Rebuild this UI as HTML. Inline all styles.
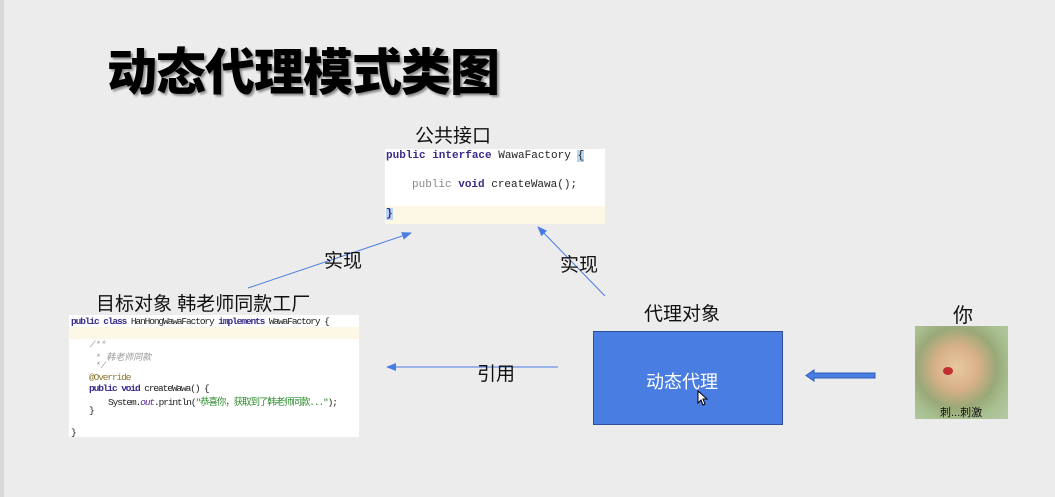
<!DOCTYPE html>
<html><head><meta charset="utf-8"><style>
body{margin:0;width:1055px;height:497px;background:#ececec;position:relative;overflow:hidden;font-family:"Liberation Sans","Noto Sans CJK SC",sans-serif}
.a{position:absolute;white-space:nowrap}
.code{font-family:"Liberation Mono","Noto Sans CJK SC",monospace;font-size:10px;color:#222}
.cc{letter-spacing:-1.1px}
.kw{color:#3a2a8a;font-weight:bold}
.cm{color:#999;font-style:italic}
.str{color:#2a8a2a}
</style></head><body>
<div class="a" style="left:0;top:0;width:4px;height:497px;background:#d8d8d8"></div>
<div class="a" style="left:107px;top:33px;font-size:50px;font-weight:900;color:#000;text-shadow:2px 2px 2px #888;letter-spacing:-1px">动态代理模式类图</div>

<div class="a" style="left:415px;top:121px;font-size:19px;color:#111">公共接口</div>
<div class="a" style="left:385px;top:149px;width:220px;height:75px;background:#fff"></div>
<div class="a" style="left:385px;top:206px;width:220px;height:18px;background:#fdf8e6"></div>
<div class="a code" style="left:386px;top:150px;font-size:11px"><span class="kw">public interface</span> WawaFactory <span style="background:#b8d4f0">{</span></div>
<div class="a code" style="left:412px;top:179px;font-size:11px"><span style="color:#888">public</span> <span class="kw">void</span> createWawa();</div>
<div class="a code" style="left:386px;top:208px;font-size:11px"><span style="background:#b8d4f0" class="kw">}</span></div>

<div class="a" style="left:96px;top:289px;font-size:19px;color:#111">目标对象 韩老师同款工厂</div>
<div class="a" style="left:69px;top:315px;width:290px;height:122px;background:#fff"></div>
<div class="a" style="left:69px;top:327px;width:290px;height:12px;background:#fdf8e6"></div>
<div class="a code cc" style="left:71px;top:316px;font-size:9.5px"><span class="kw">public class</span> HanHongWawaFactory <span class="kw">implements</span> WawaFactory {</div>
<div class="a code cm" style="left:90px;top:340px;font-size:9px">/**</div>
<div class="a code cm" style="left:90px;top:350px;font-size:9px">&nbsp;* 韩老师同款</div>
<div class="a code cm" style="left:90px;top:361px;font-size:9px">&nbsp;*/</div>
<div class="a code cc" style="left:89px;top:372px;font-size:9.5px;color:#8a7a30">@Override</div>
<div class="a code cc" style="left:89px;top:383px;font-size:9.5px"><span class="kw">public void</span> createWawa() {</div>
<div class="a code cc" style="left:108px;top:394px;font-size:9.5px">System.<i style="color:#5a2a9a">out</i>.println(<span class="str">"恭喜你，获取到了韩老师同款..."</span>);</div>
<div class="a code" style="left:89px;top:405px;font-size:9.5px">}</div>
<div class="a code" style="left:71px;top:427px;font-size:9.5px">}</div>

<svg class="a" style="left:0;top:0" width="1055" height="497">
<defs><marker id="m" markerWidth="10" markerHeight="8" refX="9" refY="4" orient="auto" markerUnits="userSpaceOnUse"><path d="M0,0L10,4L0,8z" fill="#4a7de2"/></marker></defs>
<line x1="248" y1="288" x2="411" y2="233" stroke="#4a7de2" stroke-width="1" marker-end="url(#m)"/>
<line x1="605" y1="296" x2="538" y2="227" stroke="#4a7de2" stroke-width="1" marker-end="url(#m)"/>
<line x1="558" y1="367" x2="387" y2="367" stroke="#4a7de2" stroke-width="1" marker-end="url(#m)"/>
<path d="M875,373 L814,373 L814,370 L806,375.5 L814,381 L814,378 L875,378z" fill="#4a7de2" stroke="#2f5cb8" stroke-width="1"/>
</svg>
<div class="a" style="left:324px;top:246px;font-size:19px;color:#111">实现</div>
<div class="a" style="left:560px;top:250px;font-size:19px;color:#111">实现</div>
<div class="a" style="left:477px;top:359px;font-size:19px;color:#111">引用</div>

<div class="a" style="left:644px;top:299px;font-size:19px;color:#111">代理对象</div>
<div class="a" style="left:593px;top:331px;width:188px;height:92px;background:#4a7de2;border:1px solid #2f4f9a"></div>
<div class="a" style="left:646px;top:368px;font-size:18px;color:#fff">动态代理</div>
<svg class="a" style="left:697px;top:390px" width="12" height="16"><path d="M1,1L1,13L4,10L6,15L8,14L6,9L10,9z" fill="#fff" stroke="#000" stroke-width="1"/></svg>

<div class="a" style="left:953px;top:299px;font-size:20px;color:#111">你</div>
<div class="a" style="left:915px;top:326px;width:93px;height:93px;background:radial-gradient(ellipse at 45% 45%,#e8c8a0 0,#d8b088 30%,#9aa878 55%,#a8c090 75%,#b8c8a8 100%)"></div>
<div class="a" style="left:943px;top:367px;width:10px;height:8px;background:#c03030;border-radius:50%"></div>
<div class="a" style="left:940px;top:404px;font-size:11px;color:#111">刺...刺激</div>
</body></html>
